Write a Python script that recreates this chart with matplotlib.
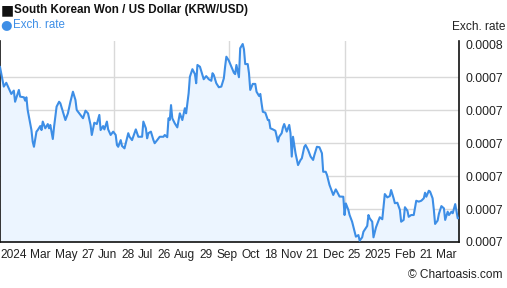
import matplotlib
matplotlib.use("Agg")
import matplotlib.pyplot as plt
import numpy as np

plt.rcParams['font.family'] = ['Liberation Sans', 'DejaVu Sans']

# days since the start of the one-year window, and KRW/USD rate
days = [0, 3, 5, 7, 9, 11, 12, 15, 16, 19, 20, 21, 22, 23, 25, 26, 27, 29, 30, 32,
        33, 34, 36, 38, 39, 40, 42, 43, 45, 47, 48, 50, 52, 54, 56, 58, 60, 61, 64, 66,
        68, 70, 72, 73, 75, 77, 79, 80, 82, 83, 85, 86, 88, 90, 92, 93, 94, 96, 97, 99,
        102, 103, 105, 108, 110, 113, 114, 116, 117, 118, 120, 122, 123, 125, 127, 130, 131, 133, 134, 135,
        136, 137, 139, 141, 143, 145, 147, 148, 150, 151, 153, 155, 156, 157, 159, 161, 162, 164, 166, 168,
        169, 170, 172, 174, 176, 178, 179, 180, 182, 184, 186, 187, 188, 190, 191, 193, 194, 195, 197, 198,
        199, 201, 203, 204, 206, 207, 208, 209, 211, 213, 214, 215, 217, 219, 221, 222, 224, 225, 226, 228,
        230, 231, 232, 233, 235, 237, 239, 240, 242, 243, 245, 247, 249, 250, 252, 254, 256, 257, 259, 260,
        262, 263, 265, 267, 268, 270, 273, 274, 275, 277, 278, 280, 282, 283, 285, 286, 288, 289, 292, 293,
        294, 296, 297, 299, 301, 302, 304, 306, 308, 310, 311, 313, 314, 316, 318, 319, 321, 322, 324, 325,
        327, 329, 331, 333, 335, 337, 338, 339, 341, 342, 344, 345, 346, 348, 349, 351, 353, 354, 356, 357,
        359, 360, 362, 364, 365]

rates = [0.0007535, 0.0007447, 0.0007464, 0.0007439, 0.0007414, 0.0007429, 0.0007379, 0.0007432, 0.0007402, 0.0007399,
         0.0007384, 0.0007399, 0.0007342, 0.0007312, 0.0007252, 0.0007200, 0.0007177, 0.0007245, 0.0007252, 0.0007270,
         0.0007252, 0.0007290, 0.0007260, 0.0007279, 0.0007260, 0.0007275, 0.0007212, 0.0007267, 0.0007357, 0.0007379,
         0.0007372, 0.0007334, 0.0007297, 0.0007327, 0.0007379, 0.0007424, 0.0007387, 0.0007342, 0.0007320, 0.0007305,
         0.0007339, 0.0007327, 0.0007275, 0.0007230, 0.0007285, 0.0007279, 0.0007320, 0.0007252, 0.0007270, 0.0007255,
         0.0007290, 0.0007255, 0.0007230, 0.0007245, 0.0007230, 0.0007185, 0.0007177, 0.0007207, 0.0007181, 0.0007170,
         0.0007238, 0.0007222, 0.0007207, 0.0007255, 0.0007222, 0.0007222, 0.0007290, 0.0007260, 0.0007215, 0.0007238,
         0.0007245, 0.0007207, 0.0007193, 0.0007207, 0.0007222, 0.0007222, 0.0007230, 0.0007220, 0.0007305, 0.0007297,
         0.0007364, 0.0007305, 0.0007282, 0.0007264, 0.0007327, 0.0007297, 0.0007350, 0.0007327, 0.0007417, 0.0007491,
         0.0007525, 0.0007503, 0.0007462, 0.0007544, 0.0007536, 0.0007499, 0.0007480, 0.0007494, 0.0007480, 0.0007473,
         0.0007507, 0.0007499, 0.0007462, 0.0007444, 0.0007447, 0.0007484, 0.0007536, 0.0007581, 0.0007563, 0.0007536,
         0.0007509, 0.0007503, 0.0007544, 0.0007489, 0.0007619, 0.0007638, 0.0007614, 0.0007548, 0.0007548, 0.0007507,
         0.0007432, 0.0007459, 0.0007459, 0.0007424, 0.0007405, 0.0007414, 0.0007372, 0.0007334, 0.0007330, 0.0007297,
         0.0007297, 0.0007260, 0.0007255, 0.0007249, 0.0007200, 0.0007222, 0.0007238, 0.0007264, 0.0007279, 0.0007245,
         0.0007275, 0.0007238, 0.0007133, 0.0007222, 0.0007148, 0.0007095, 0.0007118, 0.0007125, 0.0007177, 0.0007185,
         0.0007163, 0.0007133, 0.0007118, 0.0007140, 0.0007177, 0.0007175, 0.0007148, 0.0007065, 0.0007065, 0.0007051,
         0.0007006, 0.0006991, 0.0006961, 0.0006986, 0.0006976, 0.0006954, 0.0006953, 0.0006871, 0.0006923, 0.0006894,
         0.0006871, 0.0006841, 0.0006796, 0.0006774, 0.0006781, 0.0006756, 0.0006771, 0.0006796, 0.0006822, 0.0006871,
         0.0006856, 0.0006841, 0.0006771, 0.0006816, 0.0006846, 0.0006861, 0.0006852, 0.0006965, 0.0006950, 0.0006956,
         0.0006983, 0.0006946, 0.0006924, 0.0006926, 0.0006894, 0.0006841, 0.0006849, 0.0006906, 0.0006890, 0.0006863,
         0.0006871, 0.0006871, 0.0006935, 0.0006931, 0.0006935, 0.0006946, 0.0006971, 0.0006953, 0.0006980, 0.0006976,
         0.0006946, 0.0006894, 0.0006831, 0.0006846, 0.0006876, 0.0006911, 0.0006901, 0.0006849, 0.0006886, 0.0006871,
         0.0006886, 0.0006879, 0.0006920, 0.0006856, 0.0006858]

x_tick_pos = [10.6, 32.4, 52.6, 69.8, 85.7, 101.6, 115.9, 130.3, 147.0, 163.7, 180.4,
              199.2, 214.9, 231.6, 248.3, 265.0, 281.7, 300.6, 322.3, 338.8, 355.2]
x_tick_labels = ["2024", "Mar", "May", "27", "Jun", "28", "Jul", "26", "Aug", "29", "Sep",
                 "Oct", "18", "Nov", "21", "Dec", "25", "2025", "Feb", "21", "Mar"]
y_ticks = [0.000675, 0.0006898, 0.0007046, 0.0007194, 0.0007342, 0.000749, 0.0007638]
quarter_lines = [91, 182, 274]

LINE_BLUE = "#3d8ee6"
FILL_BLUE = "#ecf5ff"
GRID = "#d9d9d9"
TEXT = "#222222"

fig = plt.figure(figsize=(5.07, 2.88), dpi=100)
ax = fig.add_axes([0, (288 - 242) / 288, 459 / 507, (242 - 41) / 288])

ax.fill_between(days, rates, 0.000675, color=FILL_BLUE, lw=0, zorder=1)
ax.plot(days, rates, color=LINE_BLUE, lw=1.5, zorder=3)

ax.set_xlim(0, 365)
ax.set_ylim(0.000675, 0.000675 + 201 * 0.0000148 / 33)

for q in quarter_lines:
    ax.axvline(q, color=GRID, lw=1, zorder=0)
for t in y_ticks[1:-1]:
    ax.axhline(t, color=GRID, lw=1, zorder=0)

ax.yaxis.tick_right()
ax.set_yticks(y_ticks)
ax.set_yticklabels(["%.4f" % v for v in y_ticks], fontsize=8.7, color=TEXT)
ax.tick_params(axis='y', length=0, pad=5)

ax.set_xticks(x_tick_pos)
ax.set_xticklabels(x_tick_labels, fontsize=8.6, color=TEXT)
ax.tick_params(axis='x', length=0, pad=5)

ax.spines['top'].set_visible(False)
for s in ['left', 'right', 'bottom']:
    ax.spines[s].set_color("#111111")
    ax.spines[s].set_linewidth(1.2)

fig.text(1 / 507, 1 - 10 / 288, "■", fontsize=10, color="#111111", va='center', ha='left',
         family=['DejaVu Sans'])
fig.text(14 / 507, 1 - 10 / 288, "South Korean Won / US Dollar (KRW/USD)",
         fontsize=8.4, weight='bold', color="#111111", va='center', ha='left')
fig.text(0 / 507, 1 - 25 / 288, "●", fontsize=9.5, color=LINE_BLUE, va='center', ha='left',
         family=['DejaVu Sans'])
fig.text(13 / 507, 1 - 25 / 288, "Exch. rate", fontsize=8.3, color=LINE_BLUE, va='center', ha='left')
fig.text(505 / 507, 1 - 27 / 288, "Exch. rate", fontsize=8.6, color=TEXT, va='center', ha='right')
fig.text(503 / 507, 1 - 275 / 288, "© Chartoasis.com", fontsize=8.6, color=TEXT, va='center', ha='right')

fig.savefig("out.png", dpi=100)
